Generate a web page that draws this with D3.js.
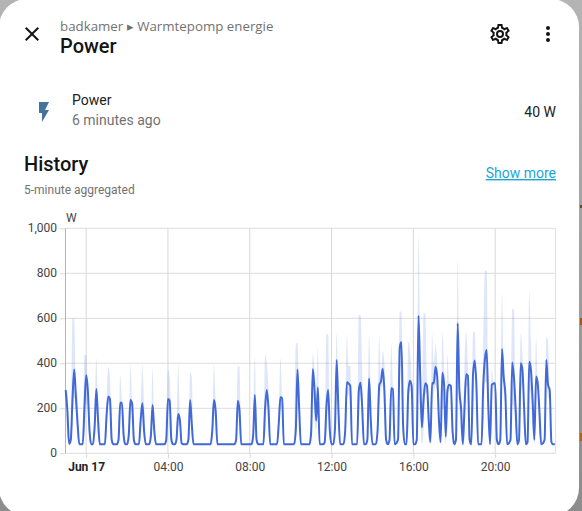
<!DOCTYPE html>
<html>
<head>
<meta charset="utf-8">
<script src="https://cdn.jsdelivr.net/npm/d3@7/dist/d3.min.js"></script>
<style>
html,body{margin:0;padding:0;width:582px;height:511px;overflow:hidden;background:linear-gradient(#b4b4b4,#8c8c8c);}
svg{display:block;position:absolute;left:0;top:0;}
text{font-family:Roboto,sans-serif;}
</style>
</head>
<body>
<svg id="c" width="582" height="511"></svg>
<script>
// 5-minute slots, counted from 23:00 on Jun 16
const slots = [
 0,1,2, 3,4,5,6,7,8, 10,11,12,13,14,15, 16,17,18,19,20, 23,24,25,26,27,28, 30,31,32,33,34,35,
 36,37,38,39,40,41, 43,44,45,46,47, 49,50,51,52,53, 58,59,60,61,62,63, 64,65,66,67,68,69,
 71,72,73,74,75, 85,86,87,88,89, 99,100,101,102,103, 109,110,111,112,113, 116,117,118,119,120,
 124,125,126,127,128, 134,135,136,137,138, 143,144,145,146,147,148,149,150, 151,152,153,154,155,156,
 157,158,159,160,161, 163,164,165,166,167,168, 171,172,173,174,175, 176,177,178,179,180,
 182,183,184,185,186,187,188,189, 190,191,192,193, 195,196,197,198,199, 200,201,202,203,204,
 205,206,207,208,209,210,211,212,213,214, 215,216,217,218,219,220, 221,222,223,224,225,226,227,228,
 229,230,231,232,233, 234,235,236,237,238, 239,240,241,242, 244,245,246,247,248,249,
 250,251,252,253,254, 255,256,257,258,259, 261,262,263,264,265, 266,267,268,269,270,
 271,272,273,274,275, 276,277,278,279, 281,282,283,284,285, 286,287
];
const meanW = [
 281,190,42, 60,240,373,250,130,40, 40,200,347,280,100,40, 40,120,286,150,40, 40,170,252,240,60,40, 40,60,225,225,80,40,
 40,80,237,220,60,40, 40,150,222,100,40, 40,80,215,100,40, 40,60,241,235,60,40, 40,60,175,150,45,40,
 40,60,237,130,40, 40,100,237,190,40, 40,60,234,190,40, 40,80,259,60,40, 40,200,281,200,40,
 40,130,249,245,40, 40,100,373,200,40, 40,90,375,280,145,292,40,40, 40,50,210,281,100,40,
 40,110,415,200,40, 40,100,316,310,300,40, 40,280,314,200,40, 40,60,333,150,40,
 40,100,304,320,376,280,60,40, 60,289,285,40, 60,470,495,120,40, 40,270,323,300,40,
 40,60,612,350,115,240,311,300,150,50, 314,310,385,340,150,50, 358,310,74,280,305,300,100,40,
 60,578,281,200,40, 200,351,345,60,40, 350,412,300,40, 40,300,420,459,200,40,
 304,310,311,60,40, 60,464,340,260,40, 60,404,340,200,40, 60,400,370,200,40,
 50,407,370,230,60, 341,310,180,40, 60,415,305,281,50, 40,40
];
const maxW = [
 281,280,42, 100,600,600,300,250,40, 40,437,437,300,130,40, 40,200,422,200,40, 40,250,385,340,90,40, 40,90,348,235,100,40,
 40,110,392,235,80,40, 40,225,392,225,40, 40,110,378,120,40, 40,90,373,340,150,40, 40,80,392,170,60,40,
 40,90,360,340,40, 40,130,392,240,40, 40,90,388,385,40, 40,110,430,80,40, 40,437,400,290,40,
 40,170,422,255,40, 40,480,492,240,40, 40,130,444,375,300,467,60,40, 40,60,530,530,110,40,
 40,150,536,260,40, 40,130,530,388,388,40, 40,615,615,380,40, 40,90,521,300,40,
 40,150,521,340,456,400,80,40, 90,481,300,40, 90,630,630,180,40, 40,496,460,325,40,
 40,90,966,500,150,622,622,320,160,60, 533,400,481,400,170,60, 540,390,90,437,320,305,110,40,
 90,859,350,210,40, 400,540,390,70,40, 540,540,310,40, 40,500,812,812,240,40,
 375,320,315,80,40, 90,711,400,270,40, 90,641,640,210,40, 90,533,440,210,40,
 70,721,500,240,90, 518,320,190,40, 90,518,500,290,60, 40,40
];
const minW = [
 270,60,40, 40,120,250,180,60,40, 40,80,220,200,50,40, 40,50,180,80,40, 40,80,220,180,40,40, 40,40,150,200,40,40,
 40,40,150,190,40,40, 40,70,160,60,40, 40,40,140,60,40, 40,40,180,200,40,40, 40,40,120,120,40,40,
 40,40,180,80,40, 40,40,170,130,40, 40,40,170,130,40, 40,40,150,40,40, 40,80,220,120,40,
 40,50,190,200,40, 40,40,280,140,40, 40,40,300,145,100,180,40,40, 40,40,100,220,60,40,
 40,40,300,140,40, 40,40,240,260,200,40, 40,150,260,120,40, 40,40,260,80,40,
 40,40,220,280,300,200,40,40, 40,200,260,40, 40,300,400,60,40, 40,120,280,260,40,
 40,40,400,180,40,100,260,270,60,40, 200,270,300,280,60,40, 200,200,40,120,280,280,40,40,
 40,350,200,80,40, 60,290,300,40,40, 160,360,240,40, 40,100,310,320,120,40,
 200,290,300,40,40, 40,320,280,200,40, 40,220,200,100,40, 40,240,300,100,40,
 40,280,260,100,40, 220,280,80,40, 40,330,250,240,40, 40,40
];
const yTicks = [0,200,400,600,800,1000];
const xTickHours = [0,4,8,12,16,20];
const xTickLabels = ["Jun 17","04:00","08:00","12:00","16:00","20:00"];

const day = new Date(2024,5,17);
const at = m => d3.timeMinute.offset(day, m);
const x = d3.scaleTime().domain([at(-61.5),at(1377.5)]).range([65,555.5]);
const y = d3.scaleLinear().domain([0,1000]).range([453.3,228.3]);
const rows = slots.map((s,i)=>({t:at(-60+5*s),mean:meanW[i],max:maxW[i],min:minW[i]}));

const svg = d3.select("#c");
// dialog surface
svg.append("rect").attr("x",-1).attr("y",-1).attr("width",580).attr("height",517).attr("rx",28).attr("fill","#fff");
[[205,3,"#6b4a2a"],[318,7,"#a05a1a"],[433,8,"#b0601a"]].forEach(d=>
  svg.append("rect").attr("x",580).attr("y",d[0]).attr("width",2).attr("height",d[1]).attr("fill",d[2]));

const icon=(p,cx,cy,f)=>svg.append("path").attr("d",p).attr("fill",f).attr("transform",`translate(${cx-12},${cy-12})`);
icon("M19,6.41L17.59,5L12,10.59L6.41,5L5,6.41L10.59,12L5,17.59L6.41,19L12,13.41L17.59,19L19,17.59L13.41,12L19,6.41Z",32,34,"#141414");
icon("M12,8A4,4 0 0,1 16,12A4,4 0 0,1 12,16A4,4 0 0,1 8,12A4,4 0 0,1 12,8M12,10A2,2 0 0,0 10,12A2,2 0 0,0 12,14A2,2 0 0,0 14,12A2,2 0 0,0 12,10M10,22C9.75,22 9.54,21.82 9.5,21.58L9.13,18.93C8.5,18.68 7.96,18.34 7.44,17.94L4.95,18.95C4.73,19.03 4.46,18.95 4.34,18.73L2.34,15.27C2.21,15.05 2.27,14.78 2.46,14.63L4.57,12.97L4.5,12L4.57,11L2.46,9.37C2.27,9.22 2.21,8.95 2.34,8.73L4.34,5.27C4.46,5.05 4.73,4.96 4.95,5.05L7.44,6.05C7.96,5.66 8.5,5.32 9.13,5.07L9.5,2.42C9.54,2.18 9.75,2 10,2H14C14.25,2 14.46,2.18 14.5,2.42L14.87,5.07C15.5,5.32 16.04,5.66 16.56,6.05L19.05,5.05C19.27,4.96 19.54,5.05 19.66,5.27L21.66,8.73C21.79,8.95 21.73,9.22 21.54,9.37L19.43,11L19.5,12L19.43,13L21.54,14.63C21.73,14.78 21.79,15.05 21.66,15.27L19.66,18.73C19.54,18.95 19.27,19.04 19.05,18.95L16.56,17.95C16.04,18.34 15.5,18.68 14.87,18.93L14.5,21.58C14.46,21.82 14.25,22 14,22H10M11.25,4L10.88,6.61C9.68,6.86 8.62,7.5 7.85,8.39L5.44,7.35L4.69,8.65L6.8,10.2C6.4,11.37 6.4,12.64 6.8,13.8L4.68,15.36L5.43,16.66L7.86,15.62C8.63,16.5 9.68,17.14 10.87,17.38L11.24,20H12.76L13.13,17.39C14.32,17.14 15.37,16.5 16.14,15.62L18.57,16.66L19.32,15.36L17.2,13.81C17.6,12.64 17.6,11.37 17.2,10.2L19.31,8.65L18.56,7.35L16.15,8.39C15.38,7.5 14.32,6.86 13.12,6.62L12.75,4H11.25Z",500,34,"#141414");
icon("M12,16A2,2 0 0,1 14,18A2,2 0 0,1 12,20A2,2 0 0,1 10,18A2,2 0 0,1 12,16M12,10A2,2 0 0,1 14,12A2,2 0 0,1 12,14A2,2 0 0,1 10,12A2,2 0 0,1 12,10M12,4A2,2 0 0,1 14,6A2,2 0 0,1 12,8A2,2 0 0,1 10,6A2,2 0 0,1 12,4Z",548,34,"#141414");
icon("M7,2V13H10V22L17,10H13L17,2H7Z",44,112,"#44739e");

const label=(s,px,py,size,col,weight,anchor,family)=>{
  const t=svg.append("text").attr("x",px).attr("y",py).attr("font-size",size).attr("fill",col)
    .attr("font-weight",weight||400).attr("text-anchor",anchor||"start").text(s);
  if(family) t.style("font-family",family);
  return t;
};
label("badkamer ▸ Warmtepomp energie",60,31,13.3,"#727272",400,"start","'Open Sans',sans-serif");
label("Power",60,53,20,"#141414",500);
label("Power",72,105,14,"#212121");
label("6 minutes ago",72,125,14,"#727272");
label("40 W",556,117,14,"#212121",400,"end");
label("History",24,171,20,"#141414",500);
label("5-minute aggregated",24,194,12,"#727272");
label("Show more",556,178,14,"#1ba6d6",400,"end").attr("text-decoration","underline");

// axes
const gy=svg.append("g").attr("transform","translate(65,0)")
  .call(d3.axisLeft(y).tickValues(yTicks).tickFormat(d3.format(",")).tickSize(5).tickPadding(3));
const gx=svg.append("g").attr("transform","translate(0,453.3)")
  .call(d3.axisBottom(x).tickValues(xTickHours.map(h=>at(h*60))).tickFormat((d,i)=>xTickLabels[i]).tickSize(5).tickPadding(4));
[gx,gy].forEach(g=>{
  g.select(".domain").remove();
  g.selectAll("line").attr("stroke","#d8d8d8");
  g.selectAll("text").attr("font-size",12).attr("fill","#444").style("font-family","Roboto,sans-serif");
});
gy.selectAll("text").attr("y",-1);
gx.selectAll("text").filter((d,i)=>i===0).attr("font-weight",700).attr("fill","#222");
label("W",66,222,12,"#444");

// grid
const grid=svg.insert("g",":scope > g");
grid.selectAll("line.h").data(yTicks).join("line").attr("x1",65).attr("x2",555.5)
  .attr("y1",d=>y(d)).attr("y2",d=>y(d)).attr("stroke","#dcdcdc");
grid.selectAll("line.v").data(xTickHours).join("line")
  .attr("x1",h=>x(at(h*60))).attr("x2",h=>x(at(h*60))).attr("y1",228.3).attr("y2",453.3).attr("stroke","#d8d8d8");
grid.append("line").attr("x1",65.5).attr("x2",65.5).attr("y1",228.3).attr("y2",453.3).attr("stroke","#b4b4b4");
grid.append("line").attr("x1",555.5).attr("x2",555.5).attr("y1",228.3).attr("y2",453.3).attr("stroke","#e2e2e2");

// series
const curve=d3.curveMonotoneX;
svg.append("path").datum(rows).attr("fill","#4169e1").attr("fill-opacity",0.17)
  .attr("d",d3.area().x(d=>x(d.t)).y0(d=>y(d.min)).y1(d=>y(d.max)).curve(curve));
svg.append("path").datum(rows).attr("fill","none").attr("stroke","#4169d8").attr("stroke-width",2)
  .attr("d",d3.line().x(d=>x(d.t)).y(d=>y(d.mean)).curve(curve));
</script>
</body>
</html>
